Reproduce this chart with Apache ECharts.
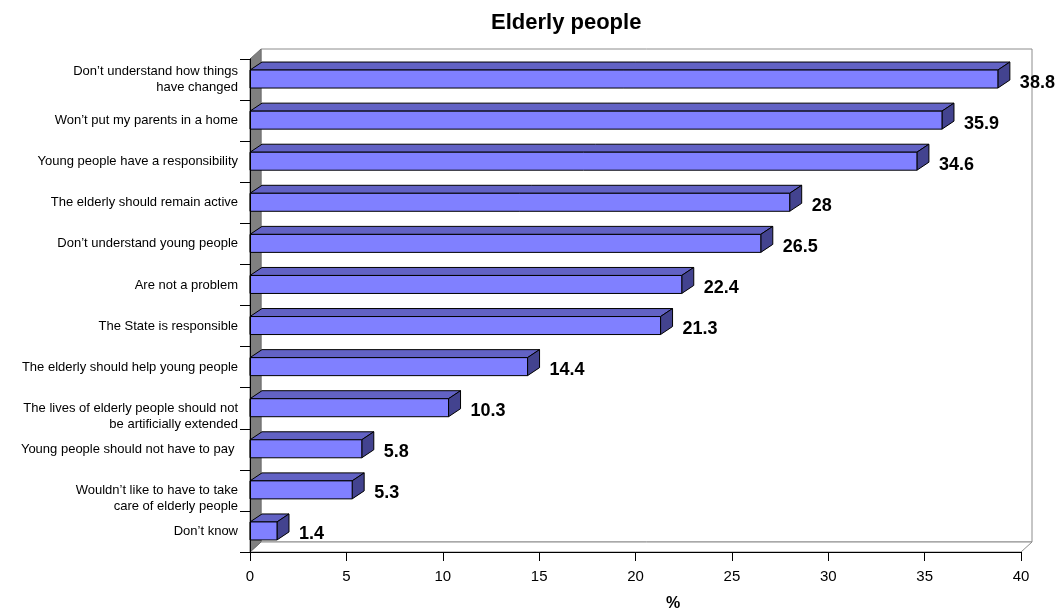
<!DOCTYPE html>
<html>
<head>
<meta charset="utf-8">
<script src="https://cdn.jsdelivr.net/npm/echarts@6/dist/echarts.min.js"></script>
<style>
html,body{margin:0;padding:0;background:#fff;}
#chart{width:1055px;height:610px;}
</style>
</head>
<body>
<div id="chart"></div>
<script>
const titleText = 'Elderly people';
const axisName = '%';
const categories = [
  'Don’t understand how things\nhave changed',
  'Won’t put my parents in a home',
  'Young people have a responsibility',
  'The elderly should remain active',
  'Don’t understand young people',
  'Are not a problem',
  'The State is responsible',
  'The elderly should help young people',
  'The lives of elderly people should not\nbe artificially extended',
  'Young people should not have to pay ',
  'Wouldn’t like to have to take\ncare of elderly people',
  'Don’t know'
];
const values = [38.8, 35.9, 34.6, 28, 26.5, 22.4, 21.3, 14.4, 10.3, 5.8, 5.3, 1.4];
const xTicks = [0, 40, 5];

const FONT = '"Liberation Sans", Arial, sans-serif';
const WDX = 11, WDY = -10;   // wall depth
const BDX = 12, BDY = -8;    // bar depth
const BAR_H = 18;
const LOWERED_LABELS = [8, 10]; // label layout: these sit a half line lower

const chart = echarts.init(document.getElementById('chart'));

function wallsRender(params, api) {
  const cs = params.coordSys;
  const x = cs.x, y = cs.y, w = cs.width, h = cs.height;
  return {
    type: 'group',
    children: [
      { type: 'rect', shape: { x: x + WDX, y: y + WDY, width: w, height: h },
        style: { fill: '#ffffff', stroke: '#8c8c8c', lineWidth: 1 } },
      { type: 'polygon', shape: { points: [[x, y + h], [x + w, y + h], [x + w + WDX, y + h + WDY], [x + WDX, y + h + WDY]] },
        style: { fill: '#ffffff', stroke: '#8c8c8c', lineWidth: 1 } },
      { type: 'polygon', shape: { points: [[x, y + h], [x + WDX, y + h + WDY], [x + WDX, y + WDY], [x, y]] },
        style: { fill: '#808080', stroke: '#6e6e6e', lineWidth: 1 } }
    ]
  };
}

function barRender(params, api) {
  const idx = api.value(0);
  const v = api.value(1);
  const p0 = api.coord([0, idx]);
  const p1 = api.coord([v, idx]);
  const x0 = p0[0], x1 = p1[0];
  const top = p0[1] - 9.5;
  const bot = top + BAR_H;
  const st = { stroke: '#000', lineWidth: 1, lineJoin: 'round' };
  return {
    type: 'group',
    children: [
      { type: 'polygon', shape: { points: [[x0, top], [x1, top], [x1 + BDX, top + BDY], [x0 + BDX, top + BDY]] },
        style: Object.assign({ fill: '#6262c4' }, st) },
      { type: 'polygon', shape: { points: [[x1, top], [x1 + BDX, top + BDY], [x1 + BDX, bot + BDY], [x1, bot]] },
        style: Object.assign({ fill: '#43438f' }, st) },
      { type: 'rect', shape: { x: x0, y: top, width: x1 - x0, height: BAR_H },
        style: Object.assign({ fill: '#8080ff' }, st) },
      { type: 'text', style: { text: String(v), x: x1 + 22, y: p0[1] + 3, align: 'left', verticalAlign: 'middle',
        font: 'bold 18px ' + FONT, fill: '#000' } }
    ]
  };
}

chart.setOption({
  animation: false,
  backgroundColor: '#ffffff',
  title: [
    { text: titleText, left: 486, top: 7,
      textStyle: { fontFamily: FONT, fontSize: 22, fontWeight: 'bold', color: '#000' } },
    { text: axisName, left: 661, top: 591,
      textStyle: { fontFamily: FONT, fontSize: 16, fontWeight: 'bold', color: '#000' } }
  ],
  grid: { left: 250, right: 34, top: 59, bottom: 58, containLabel: false },
  xAxis: {
    type: 'value', min: xTicks[0], max: xTicks[1], interval: xTicks[2], z: 5,
    axisLine: { show: true, lineStyle: { color: '#000', width: 1 } },
    axisTick: { show: true, length: 9, lineStyle: { color: '#000' } },
    splitLine: { show: false },
    axisLabel: { color: '#000', fontFamily: FONT, fontSize: 15, margin: 17 }
  },
  yAxis: {
    type: 'category', data: categories, inverse: true, z: 5,
    axisLine: { show: true, lineStyle: { color: '#000', width: 1 } },
    axisTick: { show: true, length: 10, lineStyle: { color: '#000' } },
    axisLabel: { color: '#000', fontFamily: FONT, fontSize: 13, lineHeight: 16, margin: 12, align: 'right',
      formatter: (val, i) => LOWERED_LABELS.indexOf(i) >= 0 ? '\n' + val : val }
  },
  series: [
    { type: 'custom', name: 'walls', renderItem: wallsRender, data: [[0, 0]], encode: { x: 1, y: 0 }, z: 1, silent: true },
    { type: 'custom', name: 'Elderly people', renderItem: barRender,
      data: values.map((v, i) => [i, v]), encode: { x: 1, y: 0 }, z: 3 }
  ]
});
</script>
</body>
</html>
